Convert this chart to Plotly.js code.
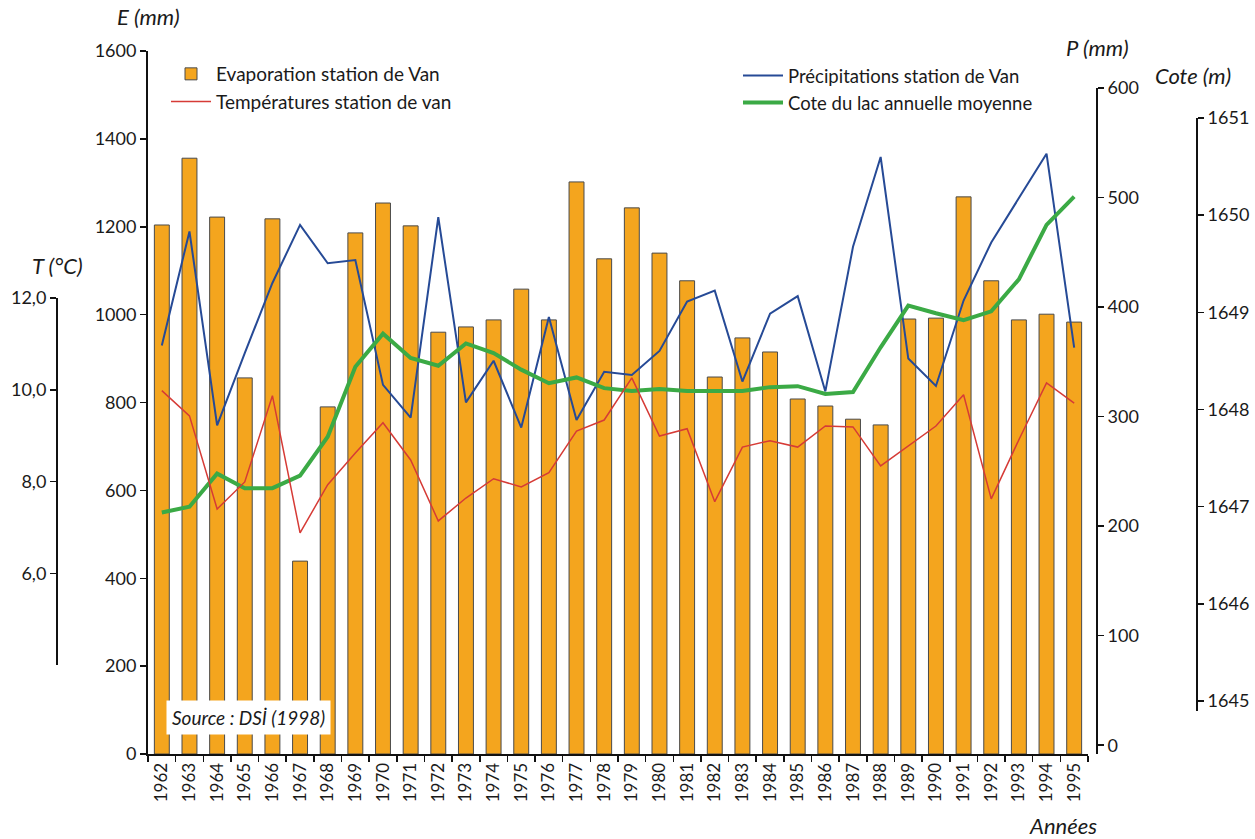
<!DOCTYPE html>
<html>
<head>
<meta charset="utf-8">
<script src="https://cdn.plot.ly/plotly-3.0.1.min.js"></script>
<style>
html,body{margin:0;padding:0;background:#fff;}
#chart{width:1255px;height:839px;}
</style>
</head>
<body>
<div id="chart"></div>
<script>
// ---- data ----
const years = ["1962","1963","1964","1965","1966","1967","1968","1969","1970","1971","1972","1973","1974","1975","1976","1977","1978","1979","1980","1981","1982","1983","1984","1985","1986","1987","1988","1989","1990","1991","1992","1993","1994","1995"];
const evaporation = [1204,1356,1222,856,1218,439,790,1186,1254,1202,960,972,988,1058,988,1302,1127,1243,1140,1077,858,947,915,808,792,762,749,990,992,1268,1077,988,1001,983];
const precipitation = [365,469,292,358,422,475,440,443,329,299,482,313,351,290,391,297,341,338,360,405,415,332,394,410,323,455,537,353,328,406,459,500,540,363];
const temperature = [9.98,9.43,7.40,7.99,9.87,6.88,7.93,8.62,9.28,8.47,7.14,7.64,8.06,7.88,8.19,9.10,9.34,10.26,8.99,9.15,7.56,8.75,8.89,8.75,9.21,9.19,8.34,8.78,9.21,9.89,7.62,8.91,10.15,9.71];
const cote = [1646.94,1647.00,1647.34,1647.19,1647.19,1647.32,1647.72,1648.44,1648.78,1648.53,1648.45,1648.68,1648.58,1648.41,1648.27,1648.33,1648.22,1648.19,1648.21,1648.19,1648.19,1648.19,1648.23,1648.24,1648.16,1648.18,1648.64,1649.07,1648.99,1648.92,1649.01,1649.34,1649.90,1650.19];
const tempTicks = [6,8,10,12];
const tempTickText = ["6,0","8,0","10,0","12,0"];

// ---- geometry helpers (pixel -> paper) ----
const L = 57, R = 1197, T = 51, B = 754;
const px = x => (x - L) / (R - L);
const py = y => (B - y) / (B - T);

const FONT = "Lato, 'Noto Sans', sans-serif";
const axisCommon = {
  showgrid: false, zeroline: false, showline: true, linecolor: '#111', linewidth: 2,
  ticks: 'outside', ticklen: 6, tickwidth: 1.5, tickcolor: '#111',
  tickfont: {family: FONT, size: 18, color: '#1a1a1a'}
};

const traces = [
  {
    type: 'bar', name: 'Evaporation station de Van', x: years, y: evaporation,
    xaxis: 'x', yaxis: 'y', width: 0.54,
    marker: {color: '#F4A51E', line: {color: '#4a4a4a', width: 1}},
    legend: 'legend', legendgroup: 'a'
  },
  {
    type: 'scatter', mode: 'lines', name: 'Températures station de van', x: years, y: temperature,
    xaxis: 'x', yaxis: 'y4', line: {color: '#D63B36', width: 1.5},
    legend: 'legend', legendgroup: 'b', cliponaxis: false
  },
  {
    type: 'scatter', mode: 'lines', name: 'Précipitations station de Van', x: years, y: precipitation,
    xaxis: 'x', yaxis: 'y2', line: {color: '#264A96', width: 2},
    legend: 'legend2', legendgroup: 'c', cliponaxis: false
  },
  {
    type: 'scatter', mode: 'lines', name: 'Cote du lac annuelle moyenne', x: years, y: cote,
    xaxis: 'x', yaxis: 'y3', line: {color: '#3BAA45', width: 4},
    legend: 'legend2', legendgroup: 'c', cliponaxis: false
  }
];

const titleFont = {family: FONT, size: 22, color: '#1a1a1a'};
const ann = (text, x, y) => ({
  text: '<i>' + text + '</i>', xref: 'paper', yref: 'paper', x: px(x), y: py(y),
  xanchor: 'center', yanchor: 'middle', showarrow: false, font: titleFont
});

const layout = {
  width: 1255, height: 839,
  margin: {l: L, r: 1255 - R, t: T, b: 839 - B, pad: 0},
  paper_bgcolor: '#fff', plot_bgcolor: 'rgba(0,0,0,0)',
  showlegend: true,
  xaxis: Object.assign({}, axisCommon, {
    type: 'category', domain: [px(148), px(1088)], range: [-0.5, 33.5],
    tickson: 'boundaries', tickangle: -90, anchor: 'y',
    tickfont: {family: FONT, size: 17, color: '#1a1a1a'}
  }),
  yaxis: Object.assign({}, axisCommon, {
    range: [0, 1600], tickvals: [0,200,400,600,800,1000,1200,1400,1600],
    anchor: 'x', side: 'left', domain: [0, 1]
  }),
  yaxis2: Object.assign({}, axisCommon, {
    side: 'right', anchor: 'free', position: px(1097),
    range: [-8, 600], tickvals: [0,100,200,300,400,500,600],
    domain: [0, py(88)]
  }),
  yaxis3: Object.assign({}, axisCommon, {
    side: 'right', anchor: 'free', position: 1,
    range: [1644.9, 1651], tickvals: [1645,1646,1647,1648,1649,1650,1651],
    domain: [py(710.7), py(118)]
  }),
  yaxis4: Object.assign({}, axisCommon, {
    side: 'left', anchor: 'free', position: 0,
    range: [4, 12], tickvals: tempTicks, ticktext: tempTickText,
    domain: [py(665), py(298)]
  }),
  legend: {
    x: px(166), y: py(55), xanchor: 'left', yanchor: 'top',
    bgcolor: 'rgba(0,0,0,0)', traceorder: 'grouped', tracegroupgap: 0,
    font: {family: FONT, size: 19, color: '#1a1a1a'}, itemwidth: 40
  },
  legend2: {
    x: px(738), y: py(57), xanchor: 'left', yanchor: 'top',
    bgcolor: 'rgba(0,0,0,0)', traceorder: 'normal', tracegroupgap: 0,
    font: {family: FONT, size: 18.5, color: '#1a1a1a'}, itemwidth: 40
  },
  annotations: [
    ann('E (mm)', 148, 17),
    ann('T (°C)', 57, 265),
    ann('P (mm)', 1097, 48),
    ann('Cote (m)', 1193, 76),
    ann('Années', 1063, 825),
    {
      text: '<i>Source : DSİ (1998)</i>', xref: 'paper', yref: 'paper',
      x: px(248), y: py(717), xanchor: 'center', yanchor: 'middle', showarrow: false,
      bgcolor: '#ffffff', borderpad: 5, font: {family: FONT, size: 19, color: '#1a1a1a'}
    }
  ]
};

Plotly.newPlot('chart', traces, layout, {displayModeBar: false, staticPlot: true});
</script>
</body>
</html>
